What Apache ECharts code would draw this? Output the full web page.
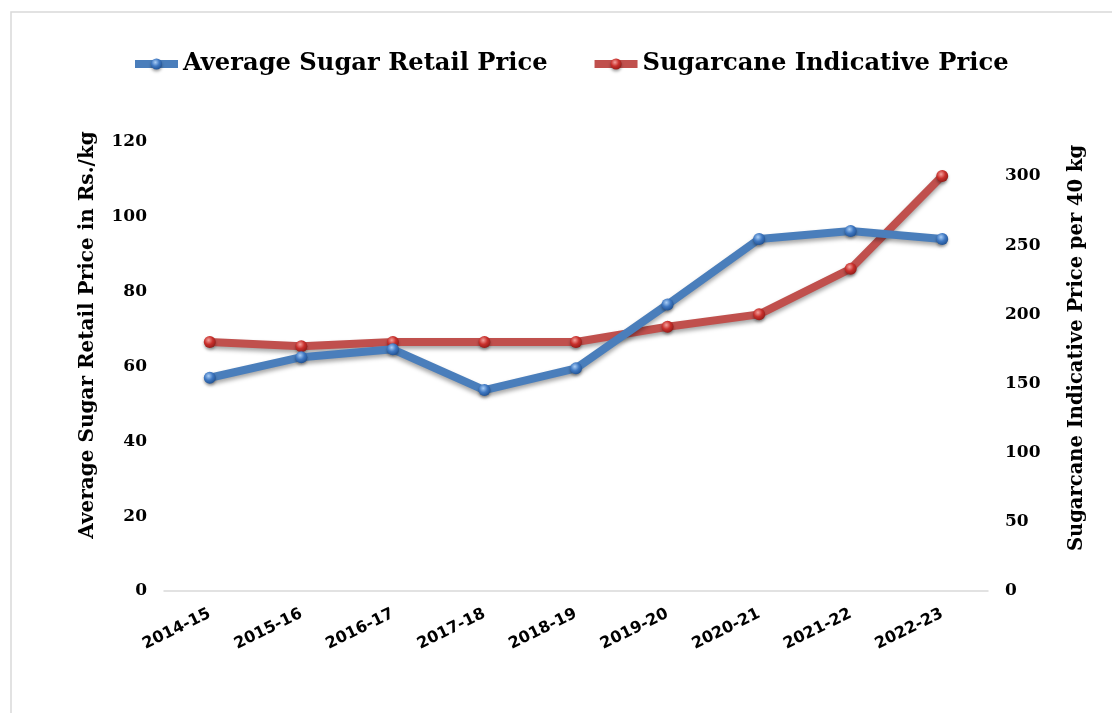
<!DOCTYPE html>
<html>
<head>
<meta charset="utf-8">
<script src="https://cdn.jsdelivr.net/npm/echarts@6/dist/echarts.min.js"></script>
<style>
html,body{margin:0;padding:0;background:#fff;}
#chart{width:1112px;height:713px;}
</style>
</head>
<body>
<div id="chart"></div>
<script>
const categories = ['2014-15','2015-16','2016-17','2017-18','2018-19','2019-20','2020-21','2021-22','2022-23'];
const sugarRetail = [57, 62.5, 64.6, 53.7, 59.5, 76.6, 94.1, 96.2, 94.1];
const caneIndicative = [180, 177, 180, 180, 180, 191, 200, 233, 300];
const leftTicks = {min: 0, max: 120, interval: 20};
const rightTicks = {min: 0, max: 324.6, interval: 50};

const serif = '"DejaVu Serif", serif';
const sans = '"DejaVu Sans", sans-serif';

function sphere(light, base, dark) {
  return new echarts.graphic.RadialGradient(0.4, 0.35, 0.7, [
    {offset: 0, color: light},
    {offset: 0.5, color: base},
    {offset: 1, color: dark}
  ]);
}

const blueLine = {color: '#4a7ebb', width: 8, shadowColor: 'rgba(0,0,0,0.35)', shadowBlur: 4, shadowOffsetY: 3};
const redLine = {color: '#c0504d', width: 8, shadowColor: 'rgba(0,0,0,0.35)', shadowBlur: 4, shadowOffsetY: 3};
const blueMark = {color: sphere('#a9cdf5', '#3f78c2', '#1f4f8f'), borderWidth: 0,
                  shadowColor: 'rgba(0,0,0,0.35)', shadowBlur: 3, shadowOffsetY: 2};
const redMark = {color: sphere('#f3a09c', '#c9302c', '#8e1a17'), borderWidth: 0,
                 shadowColor: 'rgba(0,0,0,0.35)', shadowBlur: 3, shadowOffsetY: 2};

const chart = echarts.init(document.getElementById('chart'), null, {renderer: 'canvas'});
chart.setOption({
  animation: false,
  backgroundColor: '#fff',
  graphic: [
    {type: 'polyline', shape: {points: [[11, 713], [11, 12], [1112, 12]]},
     style: {stroke: '#d9d9d9', lineWidth: 1.5, fill: null}},
    {type: 'text', x: 88, y: 335, rotation: Math.PI / 2,
     style: {text: 'Average Sugar Retail Price in Rs./kg', font: 'bold 20px ' + serif,
             fill: '#000', align: 'center', verticalAlign: 'middle'}},
    {type: 'text', x: 1077, y: 348, rotation: Math.PI / 2,
     style: {text: 'Sugarcane Indicative Price per 40 kg', font: 'bold 19.5px ' + serif,
             fill: '#000', align: 'center', verticalAlign: 'middle'}}
  ],
  legend: {
    top: 47,
    left: 126,
    itemWidth: 43,
    itemHeight: 14,
    itemGap: 43,
    textStyle: {fontFamily: serif, fontWeight: 'bold', fontSize: 24.2, color: '#000'},
    data: [
      {name: 'Average Sugar Retail Price', lineStyle: {width: 8, color: '#4a7ebb'}, itemStyle: blueMark},
      {name: 'Sugarcane Indicative Price', lineStyle: {width: 8, color: '#c0504d'}, itemStyle: redMark}
    ]
  },
  grid: {left: 164, right: 124, top: 142, bottom: 122, containLabel: false},
  xAxis: {
    type: 'category',
    data: categories,
    boundaryGap: true,
    axisLine: {show: true, lineStyle: {color: '#d9d9d9', width: 1.5}},
    axisTick: {show: false},
    axisLabel: {rotate: 26, margin: 22, fontFamily: sans, fontWeight: 'bold', fontSize: 16, color: '#000'}
  },
  yAxis: [
    {
      type: 'value', min: leftTicks.min, max: leftTicks.max, interval: leftTicks.interval,
      position: 'left',
      axisLine: {show: false}, axisTick: {show: false}, splitLine: {show: false},
      axisLabel: {margin: 17, fontFamily: serif, fontWeight: 'bold', fontSize: 17, color: '#000'}
    },
    {
      type: 'value', min: rightTicks.min, max: rightTicks.max, interval: rightTicks.interval,
      position: 'right',
      axisLine: {show: false}, axisTick: {show: false}, splitLine: {show: false},
      axisLabel: {margin: 17, showMaxLabel: false, fontFamily: serif, fontWeight: 'bold', fontSize: 17, color: '#000'}
    }
  ],
  series: [
    {
      name: 'Average Sugar Retail Price',
      type: 'line',
      yAxisIndex: 0,
      data: sugarRetail,
      symbol: 'circle',
      symbolSize: 12,
      z: 3,
      lineStyle: blueLine,
      itemStyle: blueMark
    },
    {
      name: 'Sugarcane Indicative Price',
      type: 'line',
      yAxisIndex: 1,
      data: caneIndicative,
      symbol: 'circle',
      symbolSize: 12,
      z: 2,
      lineStyle: redLine,
      itemStyle: redMark
    }
  ]
});
</script>
</body>
</html>
